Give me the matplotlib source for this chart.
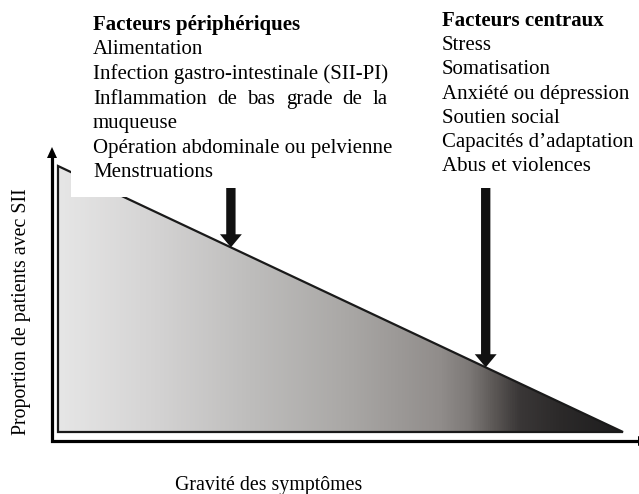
import numpy as np
import matplotlib
matplotlib.use("Agg")
import matplotlib.pyplot as plt
from matplotlib.patches import Polygon, Rectangle
from matplotlib.colors import LinearSegmentedColormap

# ---- data ----
peripheral_title = "Facteurs périphériques"
peripheral_factors = ["Alimentation",
                      "Infection gastro-intestinale (SII-PI)",
                      "Inflammation de bas grade de la",
                      "muqueuse",
                      "Opération abdominale ou pelvienne",
                      "Menstruations"]
central_title = "Facteurs centraux"
central_factors = ["Stress", "Somatisation", "Anxiété ou dépression",
                   "Soutien social", "Capacités d’adaptation", "Abus et violences"]
x_label = "Gravité des symptômes"
y_label = "Proportion de patients avec SII"
severity = [0.0, 0.0, 1.0]
proportion = [0.0, 1.0, 0.0]
arrow_severity = [0.306, 0.757]

# ---- figure ----
plt.rcParams['font.family'] = ['Liberation Serif', 'DejaVu Serif']
W, H = 639, 494
fig = plt.figure(figsize=(W / 100, H / 100), dpi=100)

L, R, T, B = 58, 623, 166, 432
ax = fig.add_axes([L / W, 1 - B / H, (R - L) / W, (B - T) / H], zorder=0)
ax.set_xlim(0, 1)
ax.set_ylim(0, 1)
ax.axis('off')

stops = [(0.0, '#e6e6e6'), (0.163, '#d5d4d4'), (0.34, '#bebdbc'), (0.517, '#a9a7a5'),
         (0.676, '#918d8b'), (0.729, '#7d7977'), (0.773, '#5c5856'), (0.818, '#3a3737'),
         (0.888, '#2c2a2a'), (1.0, '#1e1d1e')]
cmap = LinearSegmentedColormap.from_list('g', stops)
grad = np.linspace(0, 1, 800)[None, :]
im = ax.imshow(grad, extent=[0, 1, 0, 1], aspect='auto', cmap=cmap, origin='lower',
               vmin=0, vmax=1, interpolation='bilinear')
poly = Polygon(np.column_stack([severity, proportion]), closed=True, fc='none',
               ec='#1a1a1a', lw=1.6, joinstyle='miter', clip_on=False)
ax.add_patch(poly)
im.set_clip_path(poly)

# ---- overlay (pixel coordinates) ----
ov = fig.add_axes([0, 0, 1, 1], zorder=1)
ov.set_xlim(0, W)
ov.set_ylim(H, 0)
ov.axis('off')
ov.patch.set_alpha(0)

ov.add_patch(Rectangle((71, 0), 324, 197, fc='white', ec='none'))

# axes with arrowheads
ov.plot([52, 52, 641], [152, 441, 441], color='black', lw=2.3, solid_joinstyle='miter',
        solid_capstyle='butt')
ov.fill([47, 57, 52], [158, 158, 147], color='black', lw=0)
ov.fill([638, 638, 649], [436, 446, 441], color='black', lw=0, clip_on=False)

# down arrows
y0 = (B - 188) / (B - T)
for s in arrow_severity:
    ov.annotate('', xy=(s, 1 - s), xycoords=ax.transData,
                xytext=(s, y0), textcoords=ax.transData,
                arrowprops=dict(arrowstyle='simple,head_length=0.45,head_width=0.75,tail_width=0.32',
                                mutation_scale=21, fc='#111111', ec='none',
                                shrinkA=0, shrinkB=0))

FS = 15
# left block
x_left, base_left, sp = 93, 30, 24.5
ov.text(x_left, base_left, peripheral_title, fontsize=FS, fontweight='bold', va='baseline', ha='left')
fig.canvas.draw()
renderer = fig.canvas.get_renderer()
ref = ov.text(x_left, base_left + sp, peripheral_factors[1], fontsize=FS, va='baseline', ha='left', alpha=0)
bb = ref.get_window_extent(renderer)
right_px = ov.transData.inverted().transform((bb.x1, 0))[0]
ref.remove()
for i, line in enumerate(peripheral_factors):
    y = base_left + sp * (i + 1)
    if line.startswith("Inflammation"):
        words = line.split()
        widths = []
        for w_ in words:
            t = ov.text(0, 0, w_, fontsize=FS, alpha=0)
            e = t.get_window_extent(renderer)
            widths.append(e.width)
            t.remove()
        total = sum(widths)
        avail = right_px - x_left
        gap = (avail - total) / (len(words) - 1)
        xx = x_left
        for w_, wd in zip(words, widths):
            ov.text(xx, y, w_, fontsize=FS, va='baseline', ha='left')
            xx += wd + gap
    else:
        ov.text(x_left, y, line, fontsize=FS, va='baseline', ha='left')

# right block
x_right, base_right, spr = 442, 26, 24.2
ov.text(x_right, base_right, central_title, fontsize=FS, fontweight='bold', va='baseline', ha='left')
for i, line in enumerate(central_factors):
    ov.text(x_right, base_right + spr * (i + 1), line, fontsize=FS, va='baseline', ha='left')

# axis labels
ov.text(269, 490, x_label, fontsize=14.3, va='baseline', ha='center')
ov.text(22, 312, y_label, fontsize=14.3, va='center', ha='center', rotation=90)

fig.savefig('out.png', dpi=100)
